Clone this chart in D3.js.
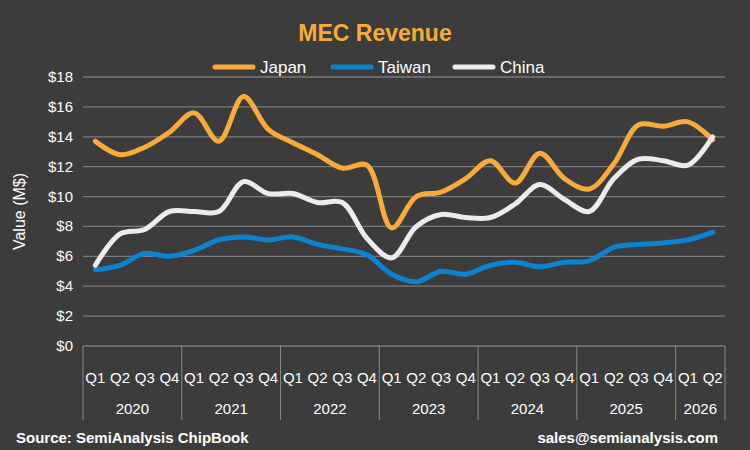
<!DOCTYPE html><html><head><meta charset="utf-8"><script src="https://cdn.jsdelivr.net/npm/d3@7"></script>
<style>body{margin:0;background:#3c3c3c}text{font-family:"Liberation Sans",Arial,sans-serif}</style></head><body><svg id="c" width="750" height="450"></svg>
<script>
const years=["2020","2021","2022","2023","2024","2025","2026"];
const quarters=["Q1","Q2","Q3","Q4"];
const categories=[];years.forEach(y=>quarters.forEach(q=>{if(!(y==="2026"&&(q==="Q3"||q==="Q4")))categories.push(y+" "+q)}));
const japan=[13.7,12.8,13.3,14.3,15.6,13.7,16.7,14.5,13.6,12.8,11.9,12.1,7.9,10.0,10.3,11.2,12.4,10.9,12.9,11.2,10.5,12.2,14.8,14.7,15.0,13.8];
const taiwan=[5.1,5.4,6.2,6.0,6.4,7.1,7.3,7.1,7.3,6.8,6.5,6.1,4.8,4.3,5.0,4.8,5.4,5.6,5.3,5.6,5.7,6.6,6.8,6.9,7.1,7.6];
const china=[5.4,7.5,7.8,9.0,9.0,9.0,11.0,10.2,10.2,9.6,9.6,7.2,5.9,8.0,8.8,8.6,8.6,9.5,10.8,9.8,9.0,11.2,12.5,12.4,12.1,14.0];
const yTicks=[0,2,4,6,8,10,12,14,16,18];
const series=[{name:"Japan",v:japan,c:"#f7ab3a"},{name:"Taiwan",v:taiwan,c:"#0a84d0"},{name:"China",v:china,c:"#ececec"}];
const svg=d3.select("#c");
const L=83,R=725,T=77,B=346;
const x=d3.scaleBand().domain(categories).range([L,R]);
const y=d3.scaleLinear().domain([0,18]).range([B,T]);
svg.append("rect").attr("width",750).attr("height",450).attr("fill","#3c3c3c");
svg.append("text").attr("x",375).attr("y",41).attr("text-anchor","middle").attr("fill","#f7ab3a").attr("font-size",23).attr("font-weight","bold").text("MEC Revenue");
svg.selectAll(".g").data(yTicks).enter().append("line").attr("x1",L).attr("x2",R).attr("y1",d=>y(d)).attr("y2",d=>y(d)).attr("stroke","#7a7a7a").attr("stroke-width",1.3);
svg.selectAll(".yt").data(yTicks).enter().append("text").attr("x",L-10).attr("y",d=>y(d)+5).attr("text-anchor","end").attr("fill","#fff").attr("font-size",15).text(d=>"$"+d);
svg.append("text").attr("transform",`translate(25,${(T+B)/2}) rotate(-90)`).attr("text-anchor","middle").attr("fill","#fff").attr("font-size",16).text("Value (M$)");
svg.selectAll(".q").data(categories).enter().append("text").attr("x",d=>x(d)+x.bandwidth()/2).attr("y",383).attr("text-anchor","middle").attr("fill","#fff").attr("font-size",15).text(d=>d.split(" ")[1]);
const bounds=[L];years.forEach(yr=>{const last=categories.filter(c=>c.startsWith(yr));bounds.push(x(last[last.length-1])+x.bandwidth());});
svg.selectAll(".sep").data(bounds).enter().append("line").attr("x1",d=>d).attr("x2",d=>d).attr("y1",B).attr("y2",420).attr("stroke","#8a8a8a").attr("stroke-width",1);
years.forEach(yr=>{const cs=categories.filter(c=>c.startsWith(yr));const a=x(cs[0]),b=x(cs[cs.length-1])+x.bandwidth();
svg.append("text").attr("x",(a+b)/2).attr("y",414).attr("text-anchor","middle").attr("fill","#fff").attr("font-size",15).text(yr);});
const line=d3.line().x((d,i)=>x(categories[i])+x.bandwidth()/2).y(d=>y(d)).curve(d3.curveCatmullRom.alpha(0.5));
series.forEach(s=>svg.append("path").attr("d",line(s.v)).attr("fill","none").attr("stroke",s.c).attr("stroke-width",5).attr("stroke-linecap","round"));
const lx=[215,333,455];
series.forEach((s,i)=>{svg.append("line").attr("x1",lx[i]).attr("x2",lx[i]+38).attr("y1",67).attr("y2",67).attr("stroke",s.c).attr("stroke-width",5).attr("stroke-linecap","round");
svg.append("text").attr("x",lx[i]+45).attr("y",73).attr("fill","#fff").attr("font-size",17).text(s.name);});
svg.append("text").attr("x",16).attr("y",443).attr("fill","#fff").attr("font-size",15).attr("font-weight","bold").text("Source: SemiAnalysis ChipBook");
svg.append("text").attr("x",718).attr("y",443).attr("text-anchor","end").attr("fill","#fff").attr("font-size",15).attr("font-weight","bold").text("sales@semianalysis.com");
</script></body></html>
